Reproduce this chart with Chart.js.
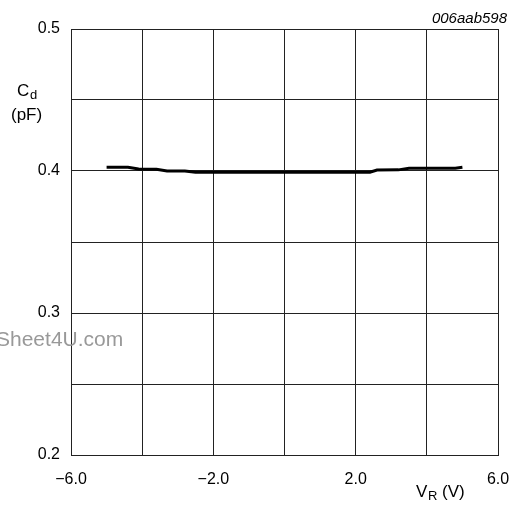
<!DOCTYPE html>
<html>
<head>
<meta charset="utf-8">
<script src="https://cdn.jsdelivr.net/npm/chart.js@4/dist/chart.umd.min.js"></script>
<style>
  html, body { margin: 0; padding: 0; background: #fff; }
  #wrap { width: 513px; height: 507px; }
</style>
</head>
<body>
<div id="wrap"><canvas id="cdChart" width="513" height="507"></canvas></div>
<script>
// reverse voltage (V) and diode capacitance (pF)
const vr = [-5.0, -4.4, -4.1, -3.6, -3.3, -2.8, -2.5, 0.0, 2.4, 2.6, 3.2, 3.5, 4.8, 5.0];
const cd = [0.4026, 0.4026, 0.4014, 0.4013, 0.4000, 0.4000, 0.3991, 0.3991, 0.3991, 0.4007, 0.4008, 0.4019, 0.4020, 0.4027];
const xTickLabels = [-6, -2, 2, 6];
const yTickLabels = [0.2, 0.3, 0.4, 0.5];

const FONT = '"Liberation Sans", Arial, sans-serif';

// texts that are not plain axis ticks: axis names with subscripts, code, watermark
const labelsPlugin = {
  id: 'labels',
  afterDraw(chart) {
    const ctx = chart.ctx;
    ctx.save();
    ctx.fillStyle = '#000';
    ctx.textBaseline = 'alphabetic';

    // C_d (pF)
    ctx.textAlign = 'left';
    ctx.font = '17px ' + FONT;
    ctx.fillText('C', 17, 96);
    ctx.font = '13px ' + FONT;
    ctx.fillText('d', 30, 99);
    ctx.font = '17px ' + FONT;
    ctx.fillText('(pF)', 11, 120);

    // V_R (V)
    ctx.fillText('V', 416, 497);
    ctx.font = '13px ' + FONT;
    ctx.fillText('R', 428, 500);
    ctx.font = '17px ' + FONT;
    ctx.fillText('(V)', 442, 497);

    // figure code
    ctx.textAlign = 'right';
    ctx.font = 'italic 15px ' + FONT;
    ctx.fillText('006aab598', 507, 23);

    // watermark
    ctx.textAlign = 'left';
    ctx.font = '21px ' + FONT;
    ctx.fillStyle = '#999';
    ctx.fillText('Sheet4U.com', -4, 346);
    ctx.restore();
  }
};

new Chart(document.getElementById('cdChart'), {
  type: 'line',
  data: {
    datasets: [{
      data: vr.map((v, i) => ({ x: v, y: cd[i] })),
      borderColor: '#000',
      borderWidth: 3,
      pointRadius: 0,
      tension: 0,
      fill: false
    }]
  },
  options: {
    responsive: false,
    animation: false,
    devicePixelRatio: 1,
    layout: { padding: { left: 0, top: 29, right: 15, bottom: 0 } },
    plugins: { legend: { display: false }, tooltip: { enabled: false } },
    scales: {
      x: {
        type: 'linear',
        min: -6,
        max: 6,
        afterFit: s => { s.height = 52; s.paddingLeft = 0; s.paddingRight = 0; },
        afterBuildTicks: s => { s.ticks = [-6, -4, -2, 0, 2, 4, 6].map(v => ({ value: v })); },
        grid: { color: '#222', lineWidth: 1, drawTicks: false },
        border: { color: '#222', width: 1 },
        ticks: {
          padding: 15,
          maxRotation: 0,
          autoSkip: false,
          color: '#000',
          font: { family: FONT, size: 16 },
          callback: v => xTickLabels.includes(v) ? (v < 0 ? '\u2212' + Math.abs(v).toFixed(1) : v.toFixed(1)) : ''
        }
      },
      y: {
        type: 'linear',
        min: 0.2,
        max: 0.5,
        afterFit: s => { s.width = 71; s.paddingTop = 0; s.paddingBottom = 0; },
        afterBuildTicks: s => { s.ticks = [0.2, 0.25, 0.3, 0.35, 0.4, 0.45, 0.5].map(v => ({ value: v })); },
        grid: { color: '#222', lineWidth: 1, drawTicks: false },
        border: { color: '#222', width: 1 },
        ticks: {
          padding: 11,
          autoSkip: false,
          color: '#000',
          font: { family: FONT, size: 16 },
          callback: v => yTickLabels.some(t => Math.abs(t - v) < 1e-6) ? v.toFixed(1) : ''
        }
      }
    }
  },
  plugins: [labelsPlugin]
});
</script>
</body>
</html>
